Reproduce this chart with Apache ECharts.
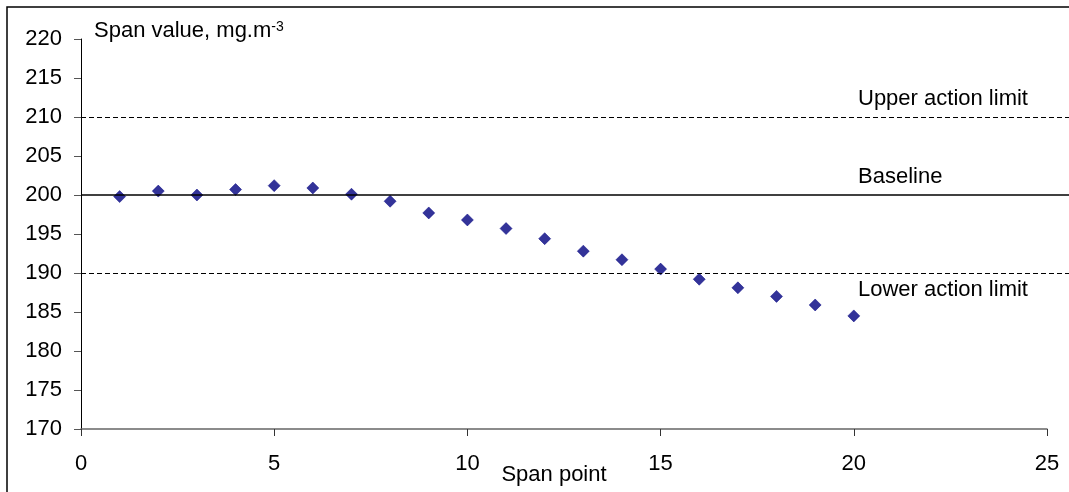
<!DOCTYPE html>
<html>
  <head>
    <meta charset="utf-8" />
    <title>Span drift</title>
    <script src="https://cdn.jsdelivr.net/npm/echarts@6.0.0/dist/echarts.min.js"></script>
    <style>
      html, body { margin: 0; padding: 0; background: #fff; }
    </style>
  </head>
  <body>
    <div id="main" style="width: 1069px; height: 492px"></div>
    <script>
      // span points and measured values
      var spanPoints = [1, 2, 3, 4, 5, 6, 7, 8, 9, 10, 11, 12, 13, 14, 15, 16, 17, 18, 19, 20];
      var spanValues = [199.8, 200.5, 200.0, 200.7, 201.2, 200.9, 200.1, 199.2, 197.7, 196.8,
                        195.7, 194.4, 192.8, 191.7, 190.5, 189.2, 188.1, 187.0, 185.9, 184.5];
      // control lines
      var upperLimit = 210;
      var baseline = 200;
      var lowerLimit = 190;

      var font = "'Liberation Sans', Arial, sans-serif";
      var fs = 22;

      var option = {
        animation: false,
        backgroundColor: "#fff",
        grid: [
          { left: 81, right: 22, top: 39, bottom: 63 },
          { left: 81, right: 0, top: 39, bottom: 63 },
        ],
        xAxis: [
          {
            gridIndex: 0,
            type: "value",
            min: 0,
            max: 25,
            interval: 5,
            splitLine: { show: false },
            axisLine: { lineStyle: { color: "#666", width: 1.5 } },
            axisTick: { inside: false, length: 7, lineStyle: { color: "#333" } },
            axisLabel: { margin: 24, color: "#000", fontSize: fs, fontFamily: font },
          },
          {
            gridIndex: 1,
            type: "value",
            min: 0,
            max: 25,
            show: false,
          },
        ],
        yAxis: [
          {
            gridIndex: 0,
            type: "value",
            min: 170,
            max: 220,
            interval: 5,
            splitLine: { show: false },
            axisLine: { show: true, lineStyle: { color: "#000", width: 1 } },
            axisTick: { show: true, length: 7, lineStyle: { color: "#555" } },
            axisLabel: { margin: 19, color: "#000", fontSize: fs, fontFamily: font },
          },
          {
            gridIndex: 1,
            type: "value",
            min: 170,
            max: 220,
            show: false,
          },
        ],
        series: [
          {
            type: "scatter",
            xAxisIndex: 1,
            yAxisIndex: 1,
            data: [],
            silent: true,
            markLine: {
              silent: true,
              symbol: "none",
              label: { show: false },
              data: [
                { yAxis: upperLimit, lineStyle: { color: "#000", width: 1, type: [5, 3] } },
                { yAxis: baseline, lineStyle: { color: "#000", width: 1.6, type: "solid" } },
                { yAxis: lowerLimit, lineStyle: { color: "#000", width: 1, type: [5, 3] } },
              ],
            },
          },
          {
            type: "scatter",
            xAxisIndex: 0,
            yAxisIndex: 0,
            symbol: "diamond",
            symbolSize: 12,
            itemStyle: { color: "#000080", borderColor: "#000080", borderWidth: 0.6 },
            data: spanPoints.map(function (x, i) {
              return [x, spanValues[i]];
            }),
          },
        ],
        graphic: [
          {
            type: "rect",
            shape: { x: 7, y: 7, width: 1200, height: 700 },
            style: { fill: "none", stroke: "#000", lineWidth: 1.5 },
            silent: true,
          },
          {
            type: "text",
            x: 94,
            y: 20,
            style: {
              text: "{a|Span value, mg.m}{b|-3}",
              rich: {
                a: { fontSize: fs, fontFamily: font, fill: "#000", verticalAlign: "bottom" },
                b: { fontSize: 14, fontFamily: font, fill: "#000", verticalAlign: "top" },
              },
            },
          },
          {
            type: "text",
            x: 858,
            y: 88,
            style: { text: "Upper action limit", fontSize: fs, fontFamily: font, fill: "#000" },
          },
          {
            type: "text",
            x: 858,
            y: 166,
            style: { text: "Baseline", fontSize: fs, fontFamily: font, fill: "#000" },
          },
          {
            type: "text",
            x: 858,
            y: 279,
            style: { text: "Lower action limit", fontSize: fs, fontFamily: font, fill: "#000" },
          },
          {
            type: "text",
            x: 554,
            y: 475,
            style: {
              text: "Span point",
              fontSize: fs,
              fontFamily: font,
              fill: "#000",
              align: "center",
              verticalAlign: "middle",
            },
          },
        ],
      };

      var myChart = echarts.init(document.getElementById("main"));
      myChart.setOption(option);
    </script>
  </body>
</html>
